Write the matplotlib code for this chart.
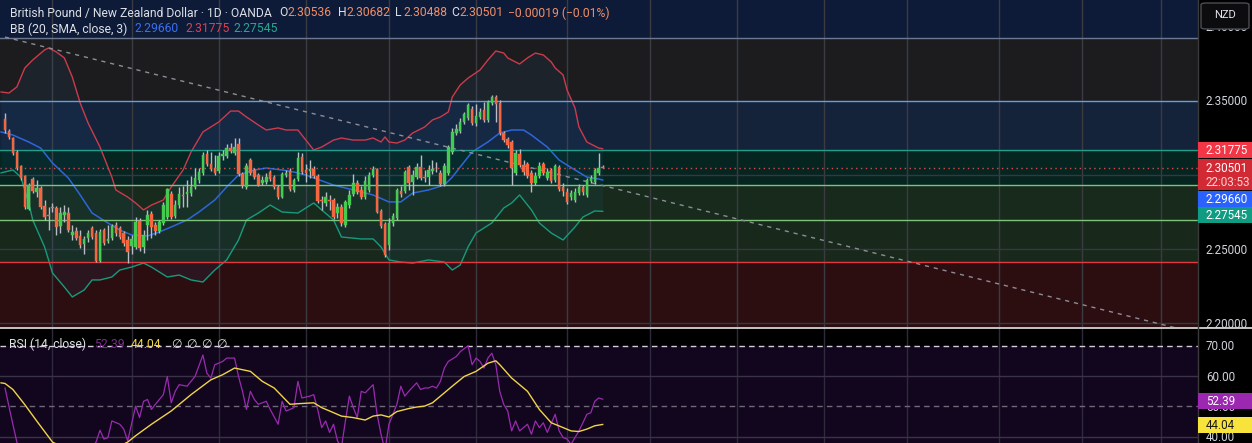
import matplotlib
matplotlib.use("Agg")
import matplotlib.pyplot as plt
from matplotlib.patches import Rectangle, FancyBboxPatch
import numpy as np

plt.rcParams['font.family'] = ['Roboto', 'DejaVu Sans']

# ---------------- data ----------------
opens = [2.3378, 2.3297, 2.3250, 2.3155, 2.3061, 2.2993, 2.2770, 2.2973, 2.2885, 2.2912,
         2.2791, 2.2730, 2.2784, 2.2777, 2.2655, 2.2730, 2.2743, 2.2595, 2.2622, 2.2588,
         2.2534, 2.2574, 2.2642, 2.2608, 2.2419, 2.2628, 2.2554, 2.2574, 2.2662, 2.2642,
         2.2608, 2.2561, 2.2520, 2.2514, 2.2689, 2.2514, 2.2662, 2.2736, 2.2662, 2.2622,
         2.2676, 2.2716, 2.2872, 2.2723, 2.2797, 2.2865, 2.2872, 2.2878, 2.2919, 2.2966,
         2.3014, 2.3142, 2.3074, 2.3047, 2.3027, 2.3128, 2.3128, 2.3182, 2.3149, 2.3209,
         2.3007, 2.2919, 2.3101, 2.3034, 2.3000, 2.2946, 2.2953, 2.3020, 2.2986, 2.2919,
         2.2851, 2.3000, 2.3027, 2.2899, 2.2973, 2.3122, 2.3034, 2.3027, 2.3041, 2.2993,
         2.2831, 2.2811, 2.2831, 2.2831, 2.2743, 2.2784, 2.2662, 2.2797, 2.2872, 2.2946,
         2.2899, 2.2851, 2.2899, 2.3000, 2.3041, 2.2757, 2.2669, 2.2527, 2.2676, 2.2709,
         2.2892, 2.2892, 2.3054, 2.2953, 2.2986, 2.3054, 2.2986, 2.2986, 2.3027, 2.3047,
         2.3014, 2.2939, 2.3014, 2.3155, 2.3284, 2.3297, 2.3358, 2.3385, 2.3446, 2.3351,
         2.3392, 2.3439, 2.3372, 2.3486, 2.3527, 2.3486, 2.3284, 2.3243, 2.3223, 2.3014,
         2.3142, 2.3068, 2.3074, 2.3014, 2.2946, 2.2993, 2.3074, 2.2980, 2.3034, 2.2966,
         2.3054, 2.2919, 2.2885, 2.2851, 2.2831, 2.2878, 2.2919, 2.2865, 2.2959, 2.2953,
         2.3014, 2.30536]
closes = [2.3304, 2.3257, 2.3149, 2.3047, 2.2980, 2.2784, 2.2932, 2.2892, 2.2912, 2.2784,
          2.2716, 2.2723, 2.2777, 2.2649, 2.2743, 2.2750, 2.2628, 2.2615, 2.2574, 2.2527,
          2.2568, 2.2608, 2.2581, 2.2419, 2.2615, 2.2541, 2.2568, 2.2655, 2.2608, 2.2581,
          2.2541, 2.2480, 2.2568, 2.2682, 2.2507, 2.2595, 2.2730, 2.2649, 2.2622, 2.2682,
          2.2797, 2.2905, 2.2716, 2.2797, 2.2872, 2.2858, 2.2885, 2.2919, 2.2980, 2.3020,
          2.3135, 2.3074, 2.3041, 2.3014, 2.3128, 2.3142, 2.3182, 2.3162, 2.3189, 2.3007,
          2.2932, 2.3061, 2.3014, 2.2986, 2.2932, 2.2966, 2.2986, 2.2973, 2.2919, 2.2851,
          2.3007, 2.3014, 2.2905, 2.2966, 2.3115, 2.3020, 2.3014, 2.3041, 2.2993, 2.2824,
          2.2824, 2.2851, 2.2824, 2.2716, 2.2784, 2.2676, 2.2818, 2.2865, 2.2946, 2.2885,
          2.2851, 2.2959, 2.3000, 2.3041, 2.2750, 2.2655, 2.2459, 2.2676, 2.2723, 2.2899,
          2.2872, 2.3020, 2.2946, 2.3000, 2.3054, 2.2980, 2.2980, 2.3034, 2.3041, 2.3044,
          2.2939, 2.3061, 2.3189, 2.3291, 2.3311, 2.3358, 2.3412, 2.3473, 2.3351, 2.3399,
          2.3426, 2.3372, 2.3493, 2.3527, 2.3480, 2.3284, 2.3236, 2.3203, 2.3047, 2.3149,
          2.3068, 2.3020, 2.2993, 2.2946, 2.2993, 2.3061, 2.3014, 2.3020, 2.2959, 2.3061,
          2.2905, 2.2892, 2.2818, 2.2878, 2.2885, 2.2919, 2.2885, 2.2966, 2.2980, 2.3034,
          2.3047, 2.30501]
highs = [2.3419, 2.3311, 2.3257, 2.3169, 2.3068, 2.3000, 2.2946, 2.2986, 2.2966, 2.2926,
         2.2831, 2.2784, 2.2811, 2.2791, 2.2784, 2.2797, 2.2784, 2.2662, 2.2649, 2.2628,
         2.2588, 2.2628, 2.2655, 2.2628, 2.2635, 2.2642, 2.2662, 2.2669, 2.2682, 2.2655,
         2.2622, 2.2588, 2.2595, 2.2716, 2.2709, 2.2628, 2.2764, 2.2757, 2.2682, 2.2696,
         2.2818, 2.2912, 2.2892, 2.2831, 2.2919, 2.2926, 2.2966, 2.2993, 2.3047, 2.3047,
         2.3155, 2.3169, 2.3155, 2.3135, 2.3155, 2.3169, 2.3209, 2.3216, 2.3250, 2.3250,
         2.3020, 2.3081, 2.3115, 2.3047, 2.3014, 2.2993, 2.3014, 2.3034, 2.3000, 2.2932,
         2.3020, 2.3034, 2.3047, 2.2980, 2.3155, 2.3149, 2.3074, 2.3101, 2.3061, 2.3007,
         2.2858, 2.2885, 2.2865, 2.2845, 2.2811, 2.2804, 2.2831, 2.2899, 2.3007, 2.2966,
         2.2926, 2.2993, 2.3020, 2.3061, 2.3047, 2.2770, 2.2682, 2.2709, 2.2743, 2.2912,
         2.2926, 2.3034, 2.3068, 2.3034, 2.3081, 2.3135, 2.3034, 2.3068, 2.3101, 2.3088,
         2.3034, 2.3081, 2.3203, 2.3318, 2.3345, 2.3385, 2.3426, 2.3486, 2.3466, 2.3480,
         2.3453, 2.3493, 2.3507, 2.3541, 2.3541, 2.3507, 2.3297, 2.3257, 2.3236, 2.3169,
         2.3176, 2.3101, 2.3088, 2.3034, 2.3020, 2.3088, 2.3088, 2.3047, 2.3047, 2.3074,
         2.3068, 2.2946, 2.2912, 2.2899, 2.2912, 2.2939, 2.2932, 2.2980, 2.3000, 2.3047,
         2.3149, 2.30682]
lows = [2.3284, 2.3243, 2.3135, 2.3034, 2.2966, 2.2770, 2.2764, 2.2878, 2.2851, 2.2770,
        2.2696, 2.2628, 2.2750, 2.2595, 2.2608, 2.2682, 2.2615, 2.2561, 2.2561, 2.2507,
        2.2466, 2.2547, 2.2568, 2.2412, 2.2412, 2.2527, 2.2541, 2.2561, 2.2588, 2.2568,
        2.2520, 2.2405, 2.2466, 2.2500, 2.2487, 2.2473, 2.2561, 2.2574, 2.2595, 2.2608,
        2.2662, 2.2703, 2.2703, 2.2709, 2.2777, 2.2784, 2.2784, 2.2858, 2.2905, 2.2946,
        2.3000, 2.3061, 2.3027, 2.3000, 2.3014, 2.3101, 2.3115, 2.3149, 2.3135, 2.2993,
        2.2912, 2.2905, 2.3000, 2.2973, 2.2926, 2.2932, 2.2939, 2.2959, 2.2905, 2.2838,
        2.2845, 2.2986, 2.2892, 2.2885, 2.2959, 2.3007, 2.2953, 2.2980, 2.2980, 2.2811,
        2.2764, 2.2791, 2.2764, 2.2703, 2.2709, 2.2655, 2.2649, 2.2777, 2.2858, 2.2872,
        2.2838, 2.2838, 2.2885, 2.2986, 2.2743, 2.2642, 2.2446, 2.2493, 2.2655, 2.2696,
        2.2851, 2.2878, 2.2899, 2.2865, 2.2973, 2.2966, 2.2953, 2.2932, 2.3007, 2.3020,
        2.2926, 2.2926, 2.3000, 2.3142, 2.3270, 2.3284, 2.3345, 2.3372, 2.3338, 2.3331,
        2.3378, 2.3358, 2.3358, 2.3473, 2.3358, 2.3270, 2.3223, 2.3182, 2.2932, 2.3000,
        2.3054, 2.3000, 2.2980, 2.2885, 2.2932, 2.2980, 2.3000, 2.2966, 2.2946, 2.2953,
        2.2892, 2.2858, 2.2804, 2.2831, 2.2818, 2.2865, 2.2865, 2.2851, 2.2946, 2.2939,
        2.3000, 2.30488]

bb_upper_idx = [-1, 1, 3, 5, 7, 10, 11, 13, 15, 17, 19, 21, 24, 27, 28, 31, 33, 35, 37, 40,
                42, 45, 47, 50, 54, 57, 59, 61, 64, 66, 69, 71, 74, 76, 78, 80, 83, 85, 88, 91,
                93, 95, 96, 97, 99, 101, 103, 106, 108, 110, 112, 113, 115, 117, 120, 122, 124,
                126, 127, 128, 130, 132, 134, 136, 138, 139, 141, 142, 144, 145, 147, 150, 151]
bb_upper = [2.3561, 2.3554, 2.3595, 2.3723, 2.3777, 2.3845, 2.3858, 2.3831, 2.3791, 2.3662,
            2.3486, 2.3351, 2.3189, 2.2986, 2.2899, 2.2851, 2.2811, 2.2764, 2.2797, 2.2831,
            2.2919, 2.3034, 2.3155, 2.3291, 2.3358, 2.3432, 2.3432, 2.3392, 2.3338, 2.3304,
            2.3318, 2.3304, 2.3304, 2.3236, 2.3169, 2.3189, 2.3236, 2.3250, 2.3236, 2.3236,
            2.3250, 2.3223, 2.3257, 2.3223, 2.3216, 2.3236, 2.3284, 2.3324, 2.3372, 2.3392,
            2.3426, 2.3527, 2.3608, 2.3655, 2.3709, 2.3777, 2.3838, 2.3824, 2.3791, 2.3777,
            2.3750, 2.3791, 2.3824, 2.3811, 2.3764, 2.3723, 2.3676, 2.3574, 2.3453, 2.3324,
            2.3223, 2.3182, 2.31775]
bb_mid_idx = [-1, 2, 6, 9, 12, 16, 19, 22, 26, 29, 32, 36, 39, 42, 46, 49, 53, 56, 59, 63,
              66, 70, 73, 76, 78, 83, 88, 93, 97, 100, 103, 107, 111, 113, 116, 118, 122, 125,
              128, 131, 133, 137, 140, 144, 147, 150, 151]
bb_mid = [2.3291, 2.3270, 2.3223, 2.3182, 2.3081, 2.2980, 2.2865, 2.2743, 2.2676, 2.2628,
          2.2595, 2.2588, 2.2615, 2.2649, 2.2696, 2.2750, 2.2831, 2.2919, 2.3000, 2.3034,
          2.3047, 2.3034, 2.3020, 2.3000, 2.2980, 2.2932, 2.2899, 2.2865, 2.2818, 2.2818,
          2.2878, 2.2899, 2.2932, 2.2986, 2.3088, 2.3155, 2.3223, 2.3284, 2.3304, 2.3304,
          2.3270, 2.3189, 2.3101, 2.3034, 2.2986, 2.2973, 2.29660]
bb_lower_idx = [-1, 2, 4, 6, 7, 10, 12, 15, 17, 20, 22, 24, 27, 29, 32, 35, 37, 41, 44, 47,
                50, 53, 56, 59, 61, 64, 67, 70, 74, 76, 78, 80, 83, 85, 90, 93, 95, 97, 100,
                103, 107, 111, 113, 115, 117, 119, 123, 126, 128, 130, 133, 135, 138, 141, 144,
                146, 149, 151]
bb_lower = [2.3014, 2.3034, 2.2986, 2.2811, 2.2696, 2.2514, 2.2338, 2.2243, 2.2176, 2.2223,
            2.2291, 2.2291, 2.2311, 2.2358, 2.2378, 2.2405, 2.2378, 2.2311, 2.2324, 2.2291,
            2.2277, 2.2358, 2.2426, 2.2561, 2.2696, 2.2743, 2.2797, 2.2750, 2.2743, 2.2777,
            2.2811, 2.2764, 2.2696, 2.2581, 2.2568, 2.2568, 2.2514, 2.2426, 2.2412, 2.2405,
            2.2426, 2.2412, 2.2358, 2.2392, 2.2514, 2.2608, 2.2676, 2.2777, 2.2811, 2.2865,
            2.2764, 2.2676, 2.2608, 2.2561, 2.2649, 2.2716, 2.2757, 2.27545]

rsi_idx = [0, 1, 2, 3, 4, 8, 14, 20, 23, 24, 25, 26, 27, 29, 30, 31, 33, 34, 35, 36, 37, 38,
           40, 41, 42, 43, 44, 46, 47, 48, 50, 51, 52, 53, 54, 55, 56, 57, 58, 59, 60, 61, 62,
           63, 64, 66, 67, 69, 70, 71, 72, 73, 74, 75, 77, 78, 79, 80, 81, 82, 83, 84, 85, 86,
           87, 88, 89, 90, 91, 93, 94, 95, 96, 97, 98, 99, 100, 101, 102, 104, 105, 106, 107,
           108, 109, 110, 111, 112, 114, 115, 117, 118, 119, 120, 121, 122, 123, 124, 125, 126,
           127, 128, 129, 130, 132, 133, 134, 135, 136, 137, 139, 140, 141, 142, 143, 144, 145,
           146, 147, 148, 149, 150, 151]
rsi_val = [56.1, 50.0, 44.0, 38.2, 34.0, 30.0, 29.0, 33.0, 38.2, 42.1, 39.2, 39.7, 45.2, 44.1,
           42.5, 38.6, 50.1, 46.3, 51.7, 52.3, 49.0, 50.7, 53.9, 59.9, 51.2, 55.0, 57.2, 56.7,
           58.3, 59.9, 67.0, 61.0, 59.4, 63.8, 64.3, 64.9, 66.0, 66.0, 66.0, 59.9, 55.0, 49.0,
           55.0, 52.3, 50.7, 51.7, 49.0, 44.1, 51.7, 48.5, 49.0, 49.6, 58.3, 52.8, 53.4, 53.9,
           49.0, 43.0, 45.2, 41.4, 44.1, 38.6, 36.5, 45.2, 53.4, 49.6, 46.3, 55.0, 54.5, 57.2,
           47.4, 40.8, 35.5, 44.1, 47.4, 50.7, 56.7, 53.4, 55.0, 57.8, 55.6, 56.1, 56.1, 56.7,
           56.1, 58.3, 62.7, 64.9, 66.5, 68.1, 70.1, 63.8, 66.0, 64.9, 62.7, 66.0, 67.6, 63.8,
           55.0, 50.7, 48.5, 41.9, 45.2, 41.9, 44.1, 40.8, 45.2, 43.0, 44.6, 41.4, 47.4, 41.9,
           39.7, 39.2, 37.5, 39.7, 41.9, 44.6, 47.4, 47.9, 51.7, 52.8, 52.39]
rsi_ma_idx = [-1, 0, 2, 5, 8, 12, 20, 26, 31, 33, 37, 42, 47, 52, 55, 58, 62, 65, 68, 70, 72,
              74, 78, 80, 82, 85, 88, 91, 93, 95, 97, 99, 102, 104, 106, 108, 110, 113, 116,
              119, 122, 124, 125, 128, 132, 135, 138, 141, 143, 145, 147, 149, 151]
rsi_ma = [57.8, 57.6, 55.6, 50.6, 45.2, 38.2, 33.0, 35.0, 38.2, 40.3, 44.1, 48.5, 53.9, 58.8,
          60.5, 62.7, 61.6, 58.3, 56.1, 53.4, 50.7, 50.9, 51.2, 49.6, 48.5, 46.8, 46.3, 45.5,
          46.8, 47.2, 46.5, 48.3, 49.3, 49.8, 50.1, 51.2, 53.4, 56.7, 59.9, 61.6, 64.3, 65.1,
          63.8, 59.4, 55.0, 49.0, 44.6, 43.0, 41.9, 41.7, 42.5, 43.6, 44.04]

# drawn levels / zones (price)
level_top = 2.3926
level_prices = [2.35, 2.3169, 2.2932, 2.2696, 2.2412]
trend_idx = [0, 300]
trend_price = [2.3932, 2.1939]
month_grid_idx = [12, 32, 54, 76, 97, 119, 142, 163, 185, 207, 228, 251, 272, 292]
price_grid = [2.30, 2.25, 2.20]
price_ticks = [2.35, 2.25, 2.20]
rsi_ticks = [70, 60, 40]

last_price = 2.30501

# ---------------- figure ----------------
W, H = 1252, 443
PLOT_W = 1198
SEP = 327
fig = plt.figure(figsize=(W / 100, H / 100), dpi=100)
fig.patch.set_facecolor('#000000')

X0, X1 = -1.263, 301.4
P_TOP, P_BOT = 2.41824, 2.19730
R_TOP, R_BOT = 75.95, 37.9

ax = fig.add_axes([0, 1 - SEP / H, PLOT_W / W, SEP / H])
axr = fig.add_axes([0, 0, PLOT_W / W, (H - SEP - 1) / H])
for a in (ax, axr):
    a.set_xlim(X0, X1)
    a.set_axis_off()
ax.set_ylim(P_BOT, P_TOP)
axr.set_ylim(R_BOT, R_TOP)

# zones
zone_edges = [P_TOP, level_top] + level_prices + [P_BOT]
zone_colors = ['#0e1b38', '#1c1c1f', '#15233a', '#062520', '#172a1c', '#18291c', '#2c0e11']
for top, bot, c in zip(zone_edges[:-1], zone_edges[1:], zone_colors):
    ax.axhspan(bot, top, color=c, zorder=0, lw=0)

# grid
for gx in month_grid_idx:
    ax.axvline(gx, color='#3a3c42', lw=1, zorder=1)
for gp in price_grid:
    ax.axhline(gp, color='#35383e', lw=1, zorder=1)

# BB fill + lines
fx = np.arange(-1, 152)
up_i = np.interp(fx, bb_upper_idx, bb_upper)
lo_i = np.interp(fx, bb_lower_idx, bb_lower)
ax.fill_between(fx, lo_i, up_i, color='#2196f3', alpha=0.06, lw=0, zorder=1.5)
ax.plot(bb_upper_idx, bb_upper, color='#cc3b4c', lw=1, zorder=2)
ax.plot(bb_mid_idx, bb_mid, color='#2e66d8', lw=1.1, zorder=2)
ax.plot(bb_lower_idx, bb_lower, color='#189a7c', lw=1, zorder=2)

# horizontal levels
ax.axhline(level_top, color='#6a7892', lw=1, zorder=2.2)
level_colors = ['#5ea1e6', '#1fa08a', '#7fc37a', '#7fc37a', '#e0393f']
for lp, c in zip(level_prices, level_colors):
    ax.axhline(lp, color=c, lw=1, zorder=2.2)

# trend line
ax.plot(trend_idx, trend_price, color='#8b8e96', lw=1, ls=(0, (3, 3.5)), zorder=2.3)
# last price dotted
ax.axhline(last_price, color='#e0474c', lw=1, ls=(0, (1, 2.5)), zorder=2.3)

# candles
idx = np.arange(len(opens))
o = np.array(opens); c = np.array(closes)
up = c >= o
bottoms = np.minimum(o, c)
heights = np.maximum(np.abs(c - o), 0.00014)
colors = np.where(up, '#45cc50', '#f5653f')
ax.vlines(idx, lows, highs, color='#b9bcc4', lw=1, zorder=3)
ax.bar(idx, heights, bottom=bottoms, width=0.64, color=colors, edgecolor=colors,
       linewidth=0.3, zorder=4)

# RSI pane
axr.axhspan(R_BOT, 70, color='#11061d', lw=0, zorder=0)
axr.axhspan(70, R_TOP, color='#000000', lw=0, zorder=0)
for gx in month_grid_idx:
    axr.axvline(gx, color='#2f2a3c', lw=1, zorder=1)
axr.axhline(60, color='#3a3247', lw=1, zorder=1)
axr.axhline(40, color='#3a3247', lw=1, zorder=1)
axr.axhline(50, color='#6e6878', lw=1, ls=(0, (4, 3)), zorder=1.2)
axr.axhline(70, color='#cfcfd4', lw=1, ls=(0, (4, 3)), zorder=1.2)
axr.plot(rsi_idx, rsi_val, color='#9a2bb0', lw=0.9, zorder=3)
axr.plot(rsi_ma_idx, rsi_ma, color='#f0d44a', lw=1.0, zorder=3.1)

# separator & axis strip
fig.add_artist(plt.Line2D([0, 1], [1 - 327.5 / H, 1 - 327.5 / H], transform=fig.transFigure,
                          color='#e6e6e6', lw=1.2))
fig.add_artist(plt.Line2D([PLOT_W / W, PLOT_W / W], [0, 1], transform=fig.transFigure,
                          color='#3a3a3a', lw=1))


def fx_(x):
    return x / W


def fy_(y):
    return 1 - y / H


def box(x0, y0, x1, y1, color):
    fig.add_artist(Rectangle((fx_(x0), fy_(y1)), (x1 - x0) / W, (y1 - y0) / H,
                             transform=fig.transFigure, color=color, lw=0, zorder=5))


AX_TXT = '#d1d4dc'
FS = 8.4


def price_y(p):
    return (P_TOP - p) / (P_TOP - P_BOT) * SEP


def rsi_y(v):
    return 328 + (R_TOP - v) / (R_TOP - R_BOT) * (H - 328)


# price axis labels
fig.text(fx_(1206), fy_(price_y(2.40) + 1), '2.40000', color=AX_TXT, fontsize=FS, va='center', zorder=4)
for p in price_ticks:
    fig.text(fx_(1206), fy_(price_y(p) + 1), f'{p:.5f}', color=AX_TXT, fontsize=FS, va='center', zorder=4)
for v in rsi_ticks:
    fig.text(fx_(1206), fy_(rsi_y(v) + 1), f'{v:.2f}', color=AX_TXT, fontsize=FS, va='center', zorder=4)
fig.text(fx_(1206), fy_(rsi_y(50) + 1), '50.00', color=AX_TXT, fontsize=FS, va='center', zorder=4)

# NZD box (covers most of the 2.40000 label, as in the reference)
fig.add_artist(FancyBboxPatch((fx_(1201), fy_(29)), 48 / W, 26 / H,
                              boxstyle='round,pad=0,rounding_size=0.004',
                              transform=fig.transFigure, facecolor='#0c0c0e',
                              edgecolor='#4a4d55', lw=1, zorder=6))
fig.text(fx_(1225), fy_(15), 'NZD', color='#e0e3eb', fontsize=8, ha='center', va='center', zorder=7)

# value labels
box(1198, 142, 1252, 158, '#f23645')
fig.text(fx_(1206), fy_(150.5), '2.31775', color='white', fontsize=FS, va='center', zorder=6)
box(1198, 159, 1252, 190, '#d12a34')
fig.text(fx_(1206), fy_(168), '2.30501', color='white', fontsize=FS, va='center', zorder=6)
fig.text(fx_(1206), fy_(182), '22:03:53', color='#ffd2d4', fontsize=FS, va='center', zorder=6)
box(1198, 191, 1252, 207, '#2962ff')
fig.text(fx_(1206), fy_(199.5), '2.29660', color='white', fontsize=FS, va='center', zorder=6)
box(1198, 207, 1252, 223, '#109c82')
fig.text(fx_(1206), fy_(215.5), '2.27545', color='white', fontsize=FS, va='center', zorder=6)
box(1198, 393, 1252, 409, '#9c27b0')
fig.text(fx_(1206), fy_(401.5), '52.39', color='white', fontsize=FS, va='center', zorder=6)
box(1198, 417, 1252, 433, '#f7e33c')
fig.text(fx_(1206), fy_(425.5), '44.04', color='#1a1a1a', fontsize=FS, va='center', zorder=6)

# header texts
HF = 8.7
HC = '#dcdfe6'
VC = '#f08e68'
fig.text(fx_(10), fy_(13), 'British Pound / New Zealand Dollar · 1D · OANDA', color=HC, fontsize=HF, va='center')
for x, lab, val in [(279, 'O', '2.30536'), (338, 'H', '2.30682'), (395, 'L', '2.30488'), (451, 'C', '2.30501')]:
    fig.text(fx_(x), fy_(13), lab, color=HC, fontsize=HF, va='center')
    fig.text(fx_(x + 8), fy_(13), val, color=VC, fontsize=HF, va='center')
fig.text(fx_(508), fy_(13), '−0.00019 (−0.01%)', color=VC, fontsize=HF, va='center')

fig.text(fx_(10), fy_(29), 'BB (20, SMA, close, 3)', color=HC, fontsize=HF, va='center')
fig.text(fx_(134), fy_(29), '2.29660', color='#3a6ff0', fontsize=HF, va='center')
fig.text(fx_(185), fy_(29), '2.31775', color='#e0404f', fontsize=HF, va='center')
fig.text(fx_(233), fy_(29), '2.27545', color='#26a88f', fontsize=HF, va='center')

fig.text(fx_(9), fy_(344), 'RSI (14, close)', color=HC, fontsize=HF, va='center', zorder=6)
fig.text(fx_(94), fy_(344), '52.39', color='#7e2a90', fontsize=HF, va='center', zorder=6)
fig.text(fx_(131), fy_(344), '44.04', color='#f2d848', fontsize=HF, va='center', zorder=6)
for x in (171, 186, 201, 216):
    fig.text(fx_(x), fy_(344), '∅', color=HC, fontsize=HF, va='center', zorder=6,
             family=['DejaVu Sans'])

fig.savefig('out.png', dpi=100, facecolor=fig.get_facecolor())
